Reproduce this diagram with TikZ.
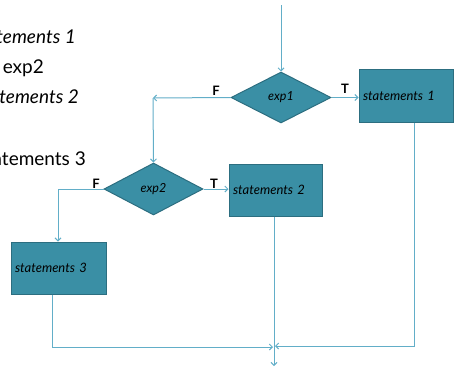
\documentclass[tikz,border=0pt]{standalone}
\usepackage{fontspec}
\setmainfont{Lato}
\usetikzlibrary{shapes.geometric,arrows.meta}
\definecolor{tealfill}{HTML}{3A8FA5}
\definecolor{tealedge}{HTML}{2C6E80}
\definecolor{linecol}{HTML}{62AEC8}
\tikzset{
  boxnode/.style={draw=tealedge, fill=tealfill, line width=1pt, rectangle, inner sep=0pt, font=\fontsize{13}{15}\selectfont\itshape},
  decnode/.style={draw=tealedge, fill=tealfill, line width=1pt, diamond, inner sep=0pt, font=\fontsize{12.5}{14}\selectfont\itshape},
  conn/.style={draw=linecol, line width=1pt},
  arr/.style={conn, -{Straight Barb[length=3pt,width=6pt]}},
  tf/.style={font=\fontsize{13}{15}\selectfont\bfseries, inner sep=0pt},
  bgtext/.style={font=\fontsize{19}{22}\selectfont, inner sep=0pt, anchor=base east},
}
\begin{document}
\begin{tikzpicture}[x=1pt,y=-1pt]
\useasboundingbox (0,0) rectangle (455,367);
\begin{scope}
\clip (0,0) rectangle (455,367);
\node[bgtext] (L1) at (76,43) {\itshape statements 1};
\node[bgtext] (L2) at (44,73) {exp2};
\node[bgtext] (L3) at (79,103) {\itshape statements 2};
\node[bgtext] (L4) at (86,165) {statements 3};
\end{scope}

\node[decnode, minimum width=100pt, minimum height=51pt] (e1) at (281,97.5) {exp1};
\node[decnode, minimum width=99pt, minimum height=52pt] (e2) at (153.5,189) {exp2};

\node[boxnode, minimum width=94pt, minimum height=53pt, text width=86pt, align=left] (s1) at (406,95.5) {statements 1};
\node[boxnode, minimum width=93pt, minimum height=52pt, text width=85pt, align=left] (s2) at (275.5,190) {statements 2};
\node[boxnode, minimum width=95pt, minimum height=52pt, text width=87pt, align=left] (s3) at (58.5,268) {statements 3};

\node[tf] (F1) at (216,91) {F};
\node[tf] (T1) at (345,89) {T};
\node[tf] (F2) at (96,184) {F};
\node[tf] (T2) at (214,184) {T};

\coordinate (top) at (281,5);
\coordinate (c1) at (153,98);
\coordinate (c2) at (58,189);
\coordinate (j3) at (52,347);
\coordinate (j1) at (414,346);
\coordinate (m) at (274,347);
\coordinate (out) at (274,366);

\draw[arr] (top) -- (e1.north);
\draw[arr] (e1.west) -- (c1);
\draw[arr] (c1) -- (e2.north);
\draw[arr] (e1.east) -- (e1.east -| s1.west);
\draw[arr] (e2.east) -- (e2.east -| s2.west);
\draw[conn] (e2.west) -- (c2);
\draw[arr] (c2) -- (c2 |- s3.north);
\draw[arr] (s3.south -| j3) -- (j3) -- ([xshift=-1pt]m);
\draw[arr] (s1.south -| j1) -- (j1) -- ([xshift=1pt]m |- j1);
\draw[arr] (s2.south -| m) -- (out);
\end{tikzpicture}
\end{document}
